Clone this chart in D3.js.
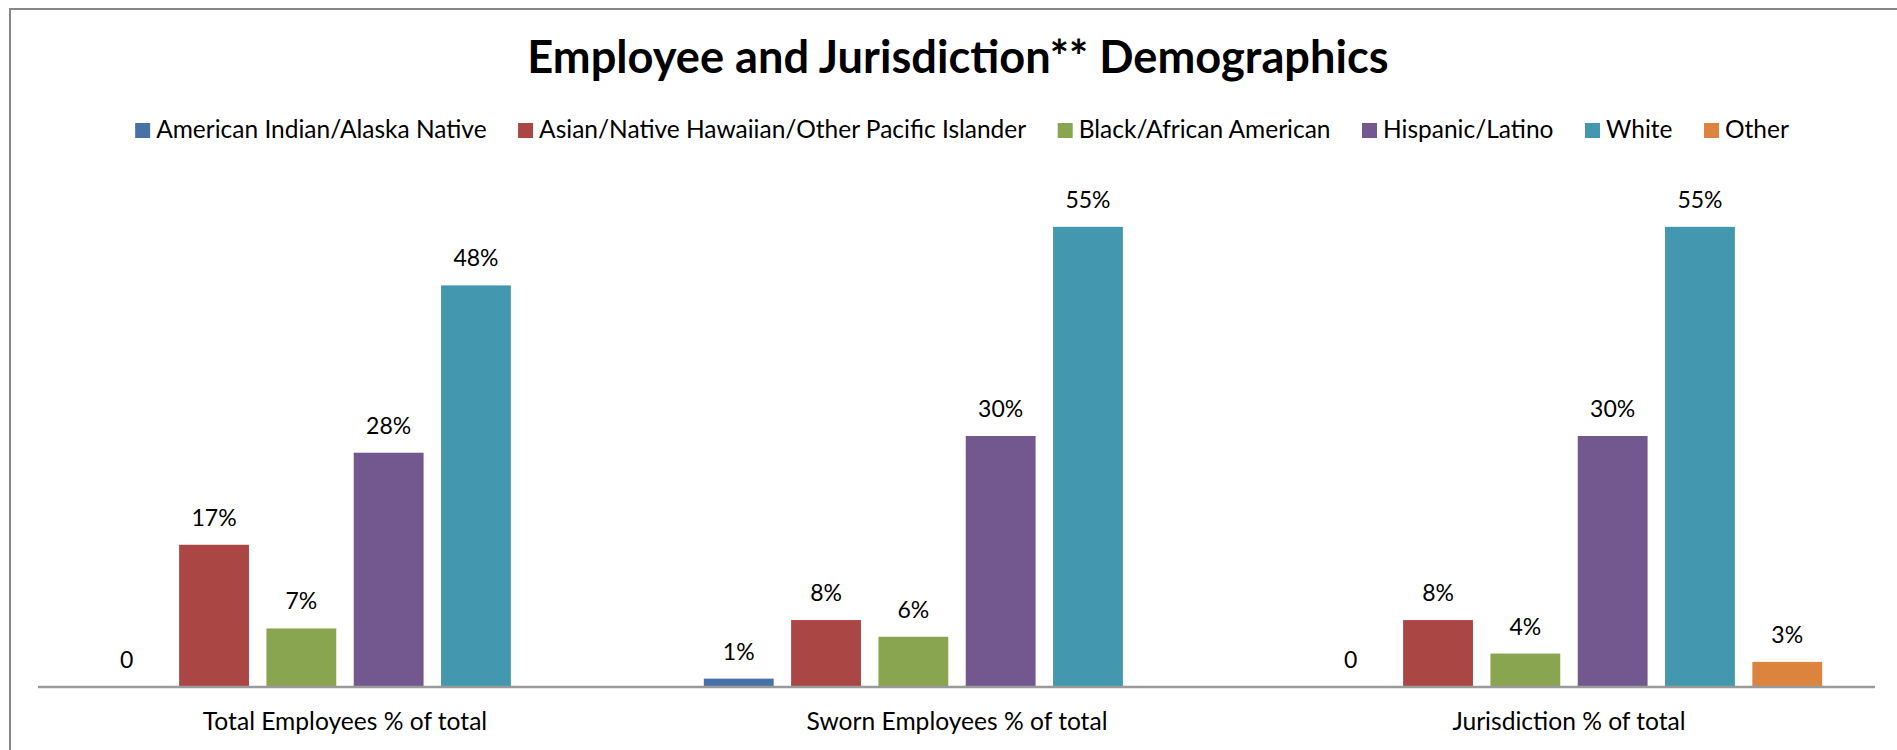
<!DOCTYPE html>
<html><head><meta charset="utf-8">
<script src="https://cdn.jsdelivr.net/npm/d3@7/dist/d3.min.js"></script>
<style>body{margin:0;background:#fff}</style>
</head><body>
<svg id="c" width="1897" height="750"></svg>
<script>
const categories = ["Total Employees % of total", "Sworn Employees % of total", "Jurisdiction % of total"];
const seriesNames = ["American Indian/Alaska Native", "Asian/Native Hawaiian/Other Pacific Islander", "Black/African American", "Hispanic/Latino", "White", "Other"];
const seriesColors = ["#4672A8", "#AA4644", "#8AA54F", "#72588F", "#4398AF", "#DC843E"];
// values per series, one per category (null = no bar / no label)
const americanIndian = [0, 0.01, 0];
const asian = [0.17, 0.08, 0.08];
const black = [0.07, 0.06, 0.04];
const hispanic = [0.28, 0.30, 0.30];
const white = [0.48, 0.55, 0.55];
const other = [null, null, 0.03];
const seriesValues = [americanIndian, asian, black, hispanic, white, other];
const titleText = "Employee and Jurisdiction** Demographics";

const FONT = "Lato, 'Open Sans', sans-serif";
const svg = d3.select("#c");
svg.append("rect").attr("width",1897).attr("height",750).attr("fill","#fff");
// frame
svg.append("path").attr("d","M10,760V9H1900").attr("fill","none").attr("stroke","#888").attr("stroke-width",2);

const x0 = d3.scaleBand().domain(categories).range([39,1875]);
const x1 = d3.scaleBand().domain(seriesNames).range([0, x0.bandwidth()]).paddingInner(0.2).paddingOuter(0.605);
const y = d3.scaleLinear().domain([0,0.6]).range([687,185]);

const rows = [];
seriesNames.forEach((s,i)=>categories.forEach((c,j)=>{
  const v = seriesValues[i][j];
  if (v!==null) rows.push({s, c, v, color: seriesColors[i]});
}));

const g = svg.append("g");
g.selectAll("rect.bar").data(rows).join("rect").attr("class","bar")
  .attr("x", d=>x0(d.c)+x1(d.s)).attr("width", x1.bandwidth())
  .attr("y", d=>y(d.v)).attr("height", d=>y(0)-y(d.v)).attr("fill", d=>d.color);

const fmt = v => v===0 ? "0" : d3.format(".0%")(v);
g.selectAll("text.lbl").data(rows).join("text").attr("class","lbl")
  .attr("x", d=>x0(d.c)+x1(d.s)+x1.bandwidth()/2).attr("y", d=>y(d.v)-19)
  .attr("text-anchor","middle").attr("font-family",FONT).attr("font-size",23).attr("fill","#000")
  .text(d=>fmt(d.v));

// x axis
const xa = svg.append("g").attr("transform","translate(0,687)")
  .call(d3.axisBottom(x0).tickSize(0).tickPadding(43));
xa.select(".domain").attr("stroke","#9a9a9a").attr("stroke-width",2.5).attr("d","M38,0H1875");
xa.selectAll("text").attr("font-family",FONT).attr("font-size",24.6).attr("fill","#000").attr("dy","0");

// title
svg.append("text").attr("x",958).attr("y",73).attr("text-anchor","middle")
  .attr("font-family",FONT).attr("font-weight","bold").attr("font-size",45.2).text(titleText);

// legend
const leg = svg.append("g");
const items = leg.selectAll("g").data(seriesNames).join("g");
items.append("rect").attr("width",15).attr("height",15).attr("y",123).attr("fill",(d,i)=>seriesColors[i]);
items.append("text").attr("x",21).attr("y",138).attr("font-family",FONT).attr("font-size",24.5).text(d=>d);
let cx = 0; const pos=[];
items.each(function(){ const w = d3.select(this).select("text").node().getComputedTextLength(); pos.push(cx); cx += 21 + w + 31.5; });
const total = cx - 31.5; const start = 962 - total/2;
items.attr("transform",(d,i)=>`translate(${start+pos[i]},0)`);
</script>
</body></html>
